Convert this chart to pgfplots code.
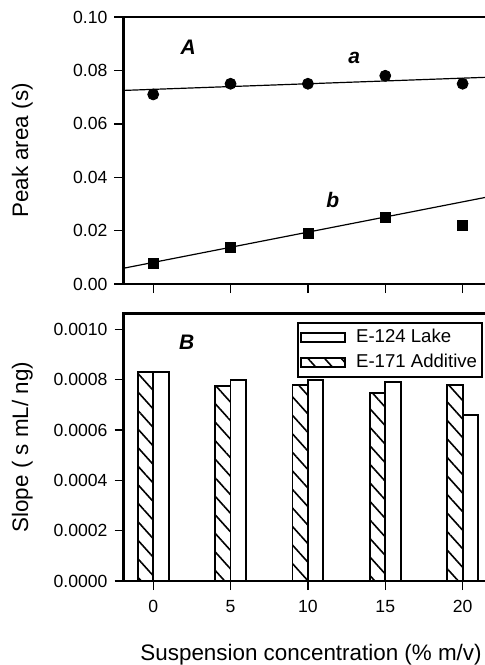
\documentclass[border=0pt]{standalone}
\usepackage{fontspec}
\setmainfont{Liberation Sans}
\usepackage{pgfplots}
\pgfplotsset{compat=1.18}
\usetikzlibrary{patterns.meta}

\tikzset{spine/.style={line width=1.2pt, line join=miter}}
\pgfplotsset{
  panel/.style={
    scale only axis, width=180.7pt,
    xmin=-1.92, xmax=21.44,
    xtick={0,5,10,15,20},
    tick align=outside, tick pos=left,
    major tick length=4.5pt,
    every tick/.style={black, line width=0.7pt},
    axis line style={draw=none},
    scaled y ticks=false,
    /pgf/number format/assume math mode=true,
    ticklabel style={font=\fontsize{8.8}{10}\selectfont},
    label style={font=\fontsize{11.2}{13}\selectfont},
    ylabel style={at={(axis description cs:-0.28,0.5)}, anchor=center},
    clip=false,
  },
  boxlegend/.style={legend image code/.code={\draw[##1] (0pt,-2.3pt) rectangle (22pt,2.3pt);}},
}
\newcommand{\plab}[1]{\fontsize{10.5}{12}\selectfont\bfseries\itshape #1}

\begin{document}
\begin{tikzpicture}
\useasboundingbox (0pt,0pt) rectangle (242.5pt,-332.5pt);

% panel A
\begin{axis}[panel,
    at={(61.75pt,-8.5pt)}, anchor=north west, height=133.5pt,
    ymin=0, ymax=0.1, ytick={0,0.02,0.04,0.06,0.08,0.1},
    yticklabel style={/pgf/number format/fixed, /pgf/number format/fixed zerofill,
                      /pgf/number format/precision=2},
    xticklabels={},
    ylabel={Peak area (s)},
  ]
  % regression lines
  \addplot[black, line width=0.6pt] coordinates {(-1.92,0.0725)(21.44,0.0774)};
  \addplot[black, line width=0.6pt] coordinates {(-1.92,0.0059)(21.44,0.0324)};
  % a
  \addplot[only marks, mark=*, mark size=2.75pt, black] coordinates {
    (0,0.071)(5,0.075)(10,0.075)(15,0.078)(20,0.075)};
  % b
  \addplot[only marks, mark=square*, mark size=2.5pt, black] coordinates {
    (0,0.0078)(5,0.0136)(10,0.019)(15,0.025)(20,0.0219)};
  \node at (axis cs:2.26,0.0885) {\plab{A}};
  \node at (axis cs:13.0,0.0845) {\plab{a}};
  \node at (axis cs:11.6,0.0315) {\plab{b}};
  \draw[spine] (rel axis cs:1,1) -- (rel axis cs:0,1) -- (rel axis cs:0,0) -- (rel axis cs:1,0);
\end{axis}

% panel B
\begin{axis}[panel,
    at={(61.75pt,-156.65pt)}, anchor=north west, height=133.85pt,
    ymin=0, ymax=0.001064,
    ytick={0,0.0002,0.0004,0.0006,0.0008,0.001},
    yticklabel style={/pgf/number format/fixed, /pgf/number format/fixed zerofill,
                      /pgf/number format/precision=4},
    xticklabel style={yshift=-1.5pt},
    xlabel={Suspension concentration (\% m/v)},
    xlabel style={at={(axis description cs:0.519,-0.276)}, anchor=center},
    ylabel={Slope ( s mL/ ng)},
    legend style={at={(axis description cs:0.995,0.9675)}, anchor=north east,
                  draw=black, line width=1pt, inner sep=1pt,
                  font=\fontsize{9.3}{11}\selectfont, row sep=0.5pt,
                  column sep=3.5pt, cells={anchor=west}},
    legend cell align=left,
    legend style={nodes={inner xsep=1.5pt, inner ysep=2pt}},
  ]
  \addplot[ybar, bar width=1, bar shift=0.5, draw=black, line width=0.9pt, fill=white, boxlegend]
    coordinates {(0,0.00083)(5,0.0008)(10,0.0008)(15,0.00079)(20,0.00066)};
  \addlegendentry{E-124 Lake}
  \addplot[ybar, bar width=1, bar shift=-0.5, draw=black, line width=0.9pt,
           pattern={Lines[angle=-48,distance=6.2pt,line width=0.8pt]}, boxlegend]
    coordinates {(0,0.00083)(5,0.000774)(10,0.00078)(15,0.000748)(20,0.00078)};
  \addlegendentry{E-171 Additive}
  \node at (axis cs:2.16,0.00095) {\plab{B}};
  \draw[spine] (rel axis cs:1,1) -- (rel axis cs:0,1) -- (rel axis cs:0,0) -- (rel axis cs:1,0);
\end{axis}
\end{tikzpicture}
\end{document}
